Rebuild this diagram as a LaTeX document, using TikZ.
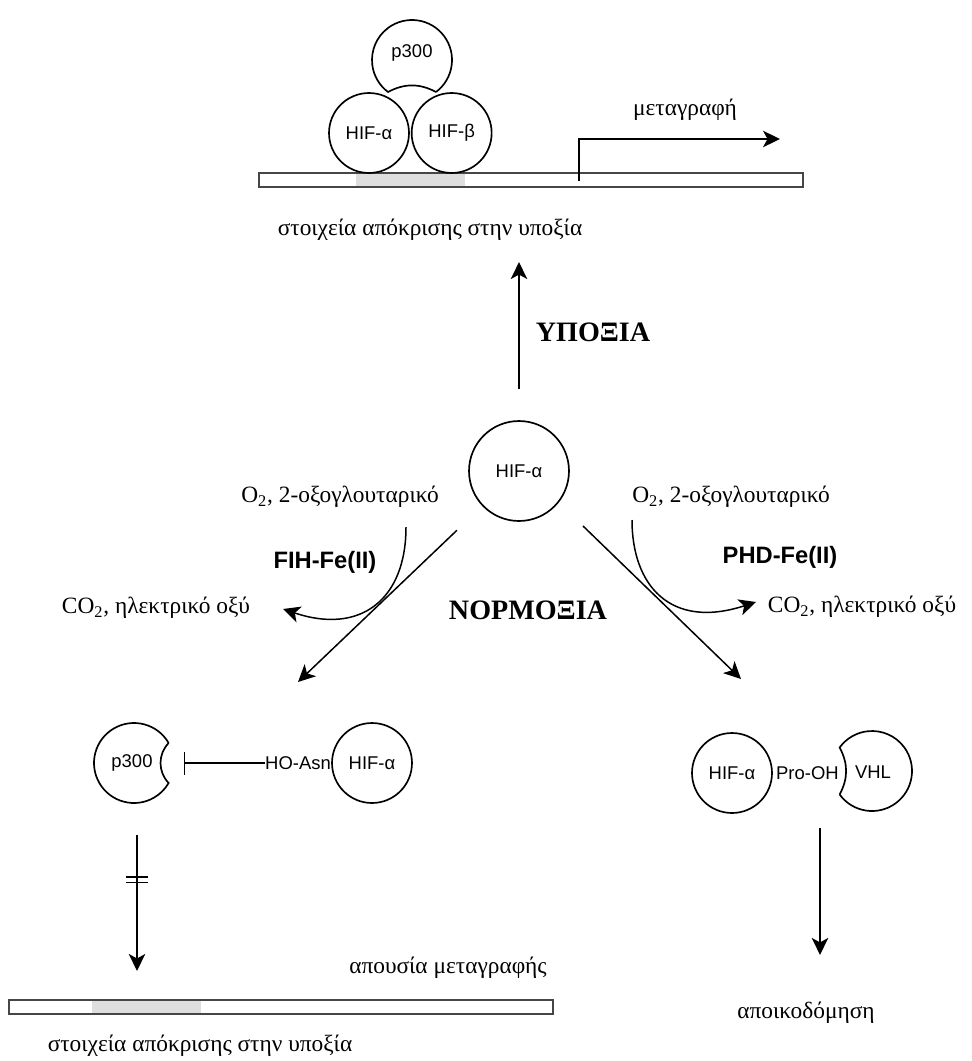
\documentclass[tikz,border=0pt]{standalone}
\usepackage{fontspec}
\setmainfont{Liberation Serif}
\setsansfont{Liberation Sans}
\usetikzlibrary{
  arrows.meta,
  positioning,
  calc
}
\definecolor{BarGray}{RGB}{70,70,70}
\definecolor{HreGray}{RGB}{222,222,222}
\newcommand{\notchedprot}[5]{%
  \draw[protline] (#1) ++({#3+#4}:#2) coordinate (#1-nb)
    arc[start angle={#3+#4}, end angle={#3-#4+360}, radius=#2]
    to[bend left=#5] (#1-nb);}
\tikzset{
  protline/.style={line width=0.95pt},
  protein/.style={circle,draw,line width=0.95pt,minimum size=1.6cm,inner sep=0pt,font=\sffamily\fontsize{10.5}{12}\selectfont},
  bigprotein/.style={protein,minimum size=2cm},
  modlabel/.style={inner sep=0pt,font=\sffamily\fontsize{10.5}{12}\selectfont},
  dnabar/.style={draw=BarGray,line width=1.2pt,minimum width=10.88cm,minimum height=0.28cm,inner sep=0pt},
  hre/.style={fill=HreGray,minimum width=2.18cm,minimum height=0.24cm,inner sep=0pt},
  greektext/.style={inner sep=0pt,font=\fontsize{13.3}{16}\selectfont},
  enzyme/.style={inner sep=0pt,font=\sffamily\bfseries\fontsize{13.5}{16}\selectfont},
  condition/.style={inner sep=0pt,font=\bfseries\fontsize{16}{19}\selectfont},
  arr/.style={-{Stealth[length=3.4mm,width=3.3mm,inset=0.9mm]},line width=0.85pt},
  inhib/.style={-{Bar[width=4.6mm]},line width=0.85pt}
}

\begin{document}
\begin{tikzpicture}[x=0.02cm,y=0.02cm]
\useasboundingbox (0,0) rectangle (971,-1061);

% hypoxia: complex on the response element
\node[hre] (hretop) at (410.5,-180) {};
\node[dnabar] (bartop) at (531,-180) {};
\node[protein] (hifatop) at (369,-133) {HIF-α};
\node[protein, right=0.02cm of hifatop] (hifbtop) {HIF-β};
\coordinate (p300top) at (412,-60);
\notchedprot{p300top}{40}{270}{36.87}{28}
\node[modlabel] (p300toptxt) at (412,-53) {p300};

\coordinate (tss) at (579,-181);
\coordinate (txend) at (780,-139);
\draw[arr] (tss) |- (txend);
\node[greektext] (txlbl) at (685,-110) {μεταγραφή};
\node[greektext] (hretoplbl) at (430,-230) {στοιχεία απόκρισης στην υποξία};

% central HIF-alpha
\node[bigprotein] (hifc) at (519,-471) {HIF-α};
\draw[arr, shorten <=0.62cm, shorten >=0.42cm] (hifc.north) -- (hifc.north |- hretoplbl.south);
\node[condition] (hypox) at (593,-332) {ΥΠΟΞΙΑ};
\node[condition] (normox) at (528,-610) {ΝΟΡΜΟΞΙΑ};

\node[greektext] (o2l) at (340,-497) {O\textsubscript{2}, 2-οξογλουταρικό};
\node[greektext] (o2r) at (731,-497) {O\textsubscript{2}, 2-οξογλουταρικό};
\node[greektext] (co2l) at (156,-608) {CO\textsubscript{2}, ηλεκτρικό οξύ};
\node[greektext] (co2r) at (862,-607) {CO\textsubscript{2}, ηλεκτρικό οξύ};
\node[enzyme] (fih) at (325,-562) {FIH-Fe(II)};
\node[enzyme] (phd) at (780,-557) {PHD-Fe(II)};

\coordinate (asntip) at (298,-682);
\draw[arr, shorten <=0.7cm] (hifc) -- (asntip);
\coordinate (prostart) at (583,-526);
\coordinate (protip) at (741,-679);
\draw[arr] (prostart) -- (protip);

\coordinate (fihin) at (406,-527);
\coordinate (fihout) at (283,-609);
\draw[arr] (fihin) .. controls (406,-600) and (360,-635) .. (fihout);
\coordinate (phdin) at (632,-520);
\coordinate (phdout) at (756,-602);
\draw[arr] (phdin) .. controls (632,-585) and (670,-630) .. (phdout);

% normoxia, FIH branch
\coordinate (p300asn) at (134,-763);
\notchedprot{p300asn}{40}{0}{30}{44}
\node[modlabel] (p300asntxt) at (132,-763) {p300};
\node[protein] (hifasn) at (372,-763) {HIF-α};
\node[modlabel, left=0pt of hifasn] (hoasn) {HO-Asn};
\coordinate (blk) at (184,-763);
\draw[inhib] (hoasn) -- (blk);

\node[hre] (hrebot) at (146.5,-1007) {};
\node[dnabar] (barbot) at (281,-1007) {};
\node[greektext] (notx) at (448,-968) {απουσία μεταγραφής};
\node[greektext] (hrebotlbl) at (200,-1046) {στοιχεία απόκρισης στην υποξία};
\coordinate (asnarr) at (137,-835);
\draw[arr, shorten >=0.56cm] (asnarr) -- (asnarr |- barbot.north);
\foreach \dy in {-42,-47.5}
  \draw[line width=0.85pt] ($(asnarr)+(-11,\dy)$) -- ++(22,0);

% normoxia, PHD branch
\node[protein] (hifpro) at (732,-773) {HIF-α};
\node[modlabel, right=0.06cm of hifpro] (prooh) {Pro-OH};
\coordinate (vhl) at (872,-771);
\notchedprot{vhl}{40}{180}{36}{28}
\node[modlabel] (vhltxt) at (873,-772) {VHL};

\node[greektext] (degr) at (806,-1013) {αποικοδόμηση};
\coordinate (proarr) at (820,-828);
\draw[arr, shorten >=0.94cm] (proarr) -- (proarr |- degr.north);
\end{tikzpicture}
\end{document}
